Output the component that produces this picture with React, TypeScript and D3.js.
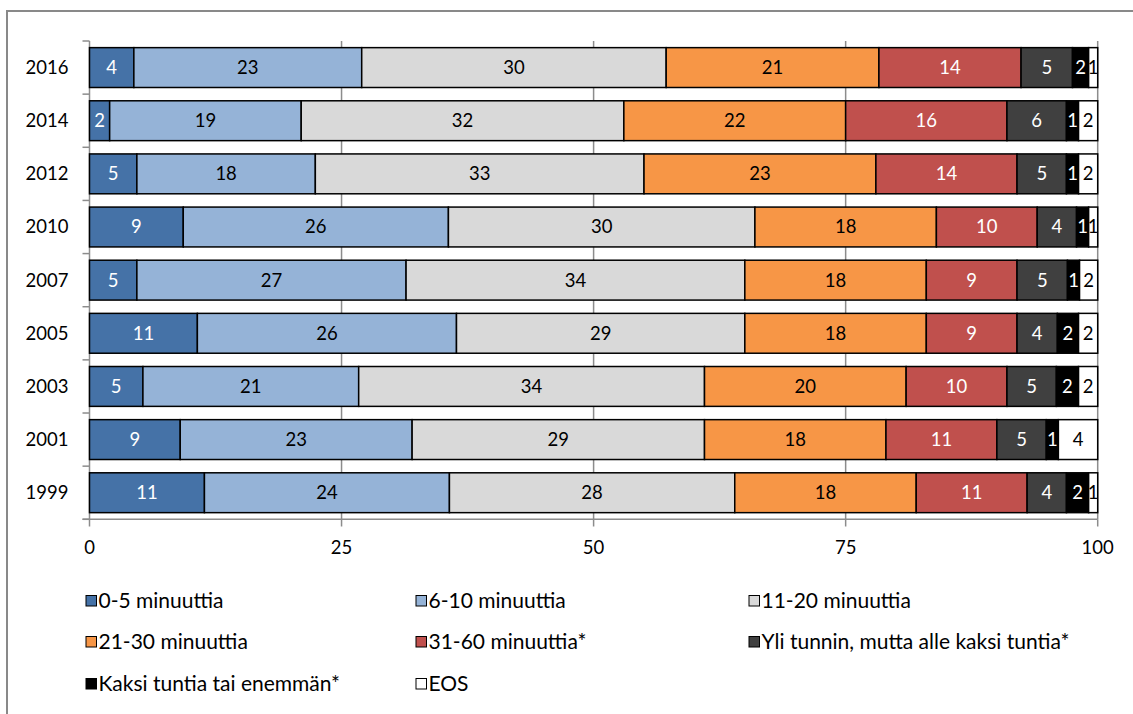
import React from 'react';
import * as d3 from 'd3';

const years = ['2016', '2014', '2012', '2010', '2007', '2005', '2003', '2001', '1999'];
const categories = [
  '0-5 minuuttia',
  '6-10 minuuttia',
  '11-20 minuuttia',
  '21-30 minuuttia',
  '31-60 minuuttia*',
  'Yli tunnin, mutta alle kaksi tuntia*',
  'Kaksi tuntia tai enemmän*',
  'EOS',
];
const s0_5 = [4.4, 2.0, 4.7, 9.3, 4.7, 10.7, 5.3, 9.0, 11.4];
const s6_10 = [22.6, 19.0, 17.7, 26.3, 26.7, 25.7, 21.4, 23.0, 24.3];
const s11_20 = [30.2, 32.0, 32.6, 30.4, 33.6, 28.6, 34.3, 29.0, 28.3];
const s21_30 = [21.1, 22.0, 23.0, 18.0, 18.0, 18.0, 20.0, 18.0, 18.0];
const s31_60 = [14.1, 16.0, 14.0, 10.0, 9.0, 9.0, 10.0, 11.0, 11.0];
const sYli = [5.1, 5.9, 4.9, 3.9, 5.0, 4.0, 4.9, 4.9, 3.9];
const sKaksi = [1.6, 1.2, 1.2, 1.2, 1.2, 2.1, 2.2, 1.2, 2.2];
const sEOS = [0.9, 1.9, 1.9, 0.9, 1.8, 1.9, 1.9, 3.9, 0.9];
const xTicks = [0, 25, 50, 75, 100];

const seriesValues = [s0_5, s6_10, s11_20, s21_30, s31_60, sYli, sKaksi, sEOS];
const colors = ['#4572A7', '#95B3D7', '#D9D9D9', '#F79646', '#C0504D', '#404040', '#000000', '#FFFFFF'];
const labelColors = ['#fff', '#000', '#000', '#000', '#fff', '#fff', '#fff', '#000'];

const FONT = 'Lato, "Open Sans", sans-serif';

export default function App() {
  const W = 1133;
  const H = 714;
  const x = d3.scaleLinear().domain([0, 100]).range([89.5, 1097.7]);
  const y = d3.scaleBand<string>().domain(years).range([41, 519.3]).paddingInner(0.25).paddingOuter(0.125);

  const rows = years.map((yr, i) => {
    const r: any = { year: yr };
    categories.forEach((c, k) => (r[c] = seriesValues[k][i]));
    return r;
  });
  const stacked = d3.stack<any>().keys(categories)(rows);

  const legendCols = [85, 415, 748];
  const legendRows = [601, 642, 684];

  return (
    <svg width={W} height={H} style={{ position: 'absolute', left: 0, top: 0, background: '#fff' }} fontFamily={FONT}>
      <rect x={0} y={0} width={W} height={H} fill="#fff" />
      <rect x={7} y={11} width={1150} height={730} fill="none" stroke="#898989" strokeWidth={2} />
      {/* gridlines */}
      {xTicks.slice(1).map((t) => (
        <line key={'g' + t} x1={x(t)} x2={x(t)} y1={41} y2={519.3} stroke="#8c8c8c" strokeWidth={1.5} />
      ))}
      {/* y axis */}
      <line x1={x(0)} x2={x(0)} y1={41} y2={519.3} stroke="#8c8c8c" strokeWidth={1.5} />
      {d3.range(years.length + 1).map((i) => {
        const yy = 41 + i * y.step();
        return <line key={'yt' + i} x1={x(0) - 7} x2={x(0)} y1={yy} y2={yy} stroke="#8c8c8c" strokeWidth={1.5} />;
      })}
      {/* x axis */}
      <line x1={x(0) - 7} x2={x(100)} y1={519.3} y2={519.3} stroke="#8c8c8c" strokeWidth={1.5} />
      {xTicks.map((t) => (
        <g key={'xt' + t}>
          <line x1={x(t)} x2={x(t)} y1={519.3} y2={526.5} stroke="#8c8c8c" strokeWidth={1.5} />
          <text x={x(t)} y={548} dy="0.35em" textAnchor="middle" fontSize={18.5} fill="#000">
            {t}
          </text>
        </g>
      ))}
      {years.map((yr) => (
        <text key={'yl' + yr} x={68.5} y={(y(yr) as number) + y.bandwidth() / 2} dy="0.35em" textAnchor="end" fontSize={18.5} fill="#000">
          {yr}
        </text>
      ))}
      {/* bars */}
      {stacked.map((s, k) => (
        <g key={'s' + k}>
          {s.map((d, i) => (
            <rect
              key={i}
              x={x(d[0])}
              y={y(years[i]) as number}
              width={x(d[1]) - x(d[0])}
              height={y.bandwidth()}
              fill={colors[k]}
              stroke="#000"
              strokeWidth={1.5}
            />
          ))}
        </g>
      ))}
      {stacked.map((s, k) => (
        <g key={'l' + k}>
          {s.map((d, i) => (
            <text
              key={i}
              x={(x(d[0]) + x(d[1])) / 2}
              y={(y(years[i]) as number) + y.bandwidth() / 2}
              dy="0.35em"
              textAnchor="middle"
              fontSize={18.5}
              fill={labelColors[k]}
            >
              {Math.round(d[1] - d[0])}
            </text>
          ))}
        </g>
      ))}
      {/* legend */}
      {categories.map((c, k) => {
        const cx = legendCols[k % 3];
        const cy = legendRows[Math.floor(k / 3)];
        return (
          <g key={'lg' + k}>
            <rect x={cx + 1} y={cy - 5.5} width={10.5} height={10.5} fill={colors[k]} stroke="#000" strokeWidth={1} />
            <text x={cx + 13.5} y={cy} dy="0.35em" fontSize={21} fill="#000">
              {c}
            </text>
          </g>
        );
      })}
    </svg>
  );
}
